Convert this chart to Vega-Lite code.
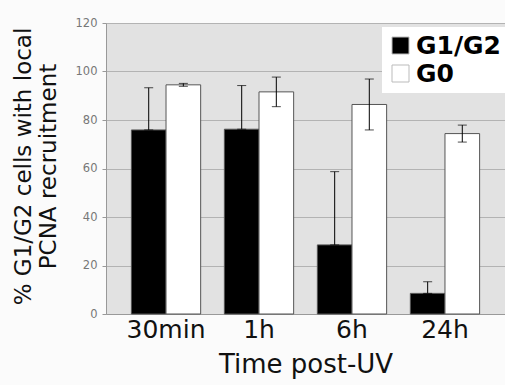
{
  "$schema": "https://vega.github.io/schema/vega-lite/v6.json",
  "width": 399,
  "height": 291,
  "autosize": {"type": "none"},
  "padding": {"left": 106, "top": 23, "right": 0, "bottom": 71},
  "background": "#fbfbfb",
  "config": {
    "view": {"fill": "#e2e2e2", "stroke": null},
    "font": "DejaVu Sans"
  },
  "data": {
    "values": [
      {"time": "30min", "phase": "G1/G2", "value": 75.9, "lo": 75.9, "hi": 93.3},
      {"time": "30min", "phase": "G0", "value": 94.5, "lo": 93.9, "hi": 95.1},
      {"time": "1h", "phase": "G1/G2", "value": 76.2, "lo": 76.2, "hi": 94.2},
      {"time": "1h", "phase": "G0", "value": 91.6, "lo": 85.5, "hi": 97.7},
      {"time": "6h", "phase": "G1/G2", "value": 28.5, "lo": 28.5, "hi": 58.7},
      {"time": "6h", "phase": "G0", "value": 86.4, "lo": 75.9, "hi": 96.9},
      {"time": "24h", "phase": "G1/G2", "value": 8.5, "lo": 8.5, "hi": 13.3},
      {"time": "24h", "phase": "G0", "value": 74.4, "lo": 70.9, "hi": 77.9}
    ]
  },
  "encoding": {
    "x": {
      "field": "time",
      "type": "nominal",
      "sort": ["30min", "1h", "6h", "24h"],
      "scale": {"paddingInner": 0.255, "paddingOuter": 0.273},
      "axis": {
        "title": "Time post-UV",
        "titleFontSize": 26,
        "titleFontWeight": "normal",
        "titleColor": "#111",
        "titlePadding": 9,
        "labelFontSize": 25,
        "labelColor": "#111",
        "labelAngle": 0,
        "labelPadding": 3,
        "ticks": false,
        "domainColor": "#999"
      }
    },
    "xOffset": {
      "field": "phase",
      "type": "nominal",
      "sort": ["G1/G2", "G0"],
      "scale": {"paddingInner": 0, "paddingOuter": 0}
    }
  },
  "layer": [
    {
      "mark": {"type": "bar", "stroke": "#555", "strokeWidth": 1},
      "encoding": {
        "y": {
          "field": "value",
          "type": "quantitative",
          "scale": {"domain": [0, 120]},
          "axis": {
            "values": [0, 20, 40, 60, 80, 100, 120],
            "title": ["% G1/G2 cells with local", "PCNA recruitment"],
            "titleFontSize": 23,
            "titleFontWeight": "normal",
            "titleColor": "#111",
            "titleAngle": 270,
            "titleAlign": "center",
            "titleBaseline": "top",
            "titleX": -94,
            "titleY": 143,
            "titleLineHeight": 25,
            "labelFontSize": 11.5,
            "labelColor": "#777",
            "labelPadding": 5,
            "tickSize": 4,
            "tickColor": "#999",
            "domainColor": "#999",
            "gridColor": "#b3b3b3",
            "grid": true
          }
        },
        "fill": {
          "field": "phase",
          "type": "nominal",
          "sort": ["G1/G2", "G0"],
          "scale": {"domain": ["G1/G2", "G0"], "range": ["#000000", "#ffffff"]},
          "legend": {
            "title": null,
            "orient": "none",
            "legendX": 276,
            "legendY": 4,
            "fillColor": "#ffffff",
            "padding": 6,
            "symbolType": "square",
            "symbolSize": 289,
            "symbolStrokeColor": "#bbb",
            "symbolStrokeWidth": 1,
            "labelFont": "DejaVu Sans",
            "labelFontSize": 25,
            "labelFontWeight": "bold",
            "labelColor": "#000",
            "rowPadding": 2,
            "labelOffset": 3
          }
        }
      }
    },
    {
      "mark": {"type": "rule", "color": "#000", "strokeWidth": 1},
      "encoding": {
        "y": {"field": "lo", "type": "quantitative"},
        "y2": {"field": "hi"}
      }
    },
    {
      "mark": {"type": "tick", "color": "#000", "thickness": 1, "size": 9, "orient": "horizontal"},
      "encoding": {"y": {"field": "hi", "type": "quantitative"}}
    },
    {
      "mark": {"type": "tick", "color": "#000", "thickness": 1, "size": 9, "orient": "horizontal"},
      "encoding": {"y": {"field": "lo", "type": "quantitative"}}
    }
  ]
}
